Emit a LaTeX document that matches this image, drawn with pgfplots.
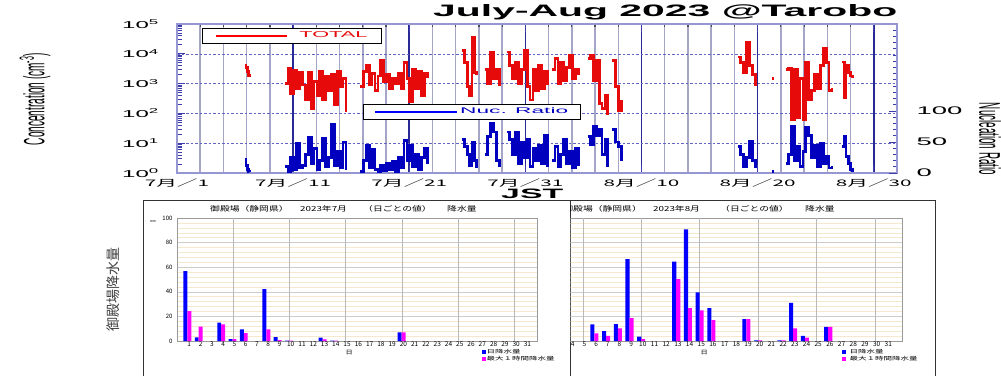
\documentclass[border=0pt]{standalone}
\usepackage{fontspec}
\setmainfont{Liberation Sans}
\newfontfamily\cjk{Noto Sans CJK JP}
\usepackage{pgfplots}
\pgfplotsset{compat=1.18}
\usepackage{pgfplotstable}

\definecolor{gridv}{RGB}{165,165,200}
\definecolor{gridV}{RGB}{40,40,150}
\definecolor{frameb}{RGB}{150,150,210}
\definecolor{tickb}{RGB}{60,60,170}
\definecolor{dashb}{RGB}{100,100,195}
\definecolor{totred}{RGB}{230,10,10}
\definecolor{nucblue}{RGB}{0,0,190}
\definecolor{barblue}{RGB}{0,0,255}
\definecolor{barmag}{RGB}{255,0,255}
\definecolor{minorbeige}{RGB}{245,232,205}
\definecolor{majgray}{RGB}{205,205,205}

\newcommand\tx[1]{\scalebox{2.3}[1]{\cjk\fontsize{9}{9}\selectfont #1}}
\newcommand\lt[1]{\scalebox{2.4}[1]{\fontsize{10}{10}\selectfont 10\textsuperscript{#1}}}
\newcommand\rt[1]{\scalebox{2.5}[1]{\fontsize{11}{11}\selectfont #1}}
\newcommand\jt[1]{{\cjk\fontsize{7}{7}\selectfont\scalebox{1.4}[1]{#1}}}

\pgfplotstableread{
d tot nuc
5.85 4200 22
5.95 3500 12
6.05 2600 5
6.15 1900 3
6.25 2100 1
6.35 nan nan
9.30 1000 10
9.55 3300 3
9.80 450 25
10.05 2800 5
10.30 700 48
10.55 2300 8
10.80 900 12
11.05 300 30
11.30 2400 58
11.55 150 15
11.80 1200 40
12.05 400 6
12.30 2600 20
12.55 280 55
12.80 1800 10
13.05 600 25
13.30 2000 78
13.55 200 12
13.80 2500 35
14.05 800 8
14.30 1500 50
14.55 110 5
14.75 nan nan
15.80 800 3
16.05 2500 20
16.30 4000 45
16.55 900 8
16.80 2200 38
17.05 600 5
17.30 1800 2
17.55 6000 12
17.80 1200 4
18.05 2000 15
18.30 700 6
18.55 1500 18
18.80 1000 3
19.05 2200 25
19.30 700 8
19.55 5000 52
19.80 1500 20
20.05 250 45
20.30 3000 10
20.55 700 30
20.80 2500 5
21.05 400 25
21.30 2200 40
21.55 1500 15
21.80 nan nan
24.50 13000 54
24.75 5000 43
25.00 800 30
25.20 400 12
25.40 36000 49
25.60 2300 20
25.80 2000 8
26.00 nan nan
26.50 2900 30
26.75 1000 59
27.00 11500 80
27.25 1500 66
27.50 3000 20
27.75 800 10
28.00 nan nan
28.40 11500 66
28.65 4000 54
28.90 1500 30
29.15 5000 66
29.40 1000 15
29.65 3000 50
29.90 13000 25
30.15 800 54
30.40 280 10
30.65 3000 40
30.90 600 20
31.15 4000 45
31.40 700 15
31.65 2500 60
31.90 900 10
32.10 nan nan
32.30 2900 20
32.55 7000 43
32.80 1000 10
33.05 5000 30
33.30 1300 54
33.55 3500 15
33.80 9000 35
34.05 1500 8
34.30 2900 40
34.55 2000 12
34.80 nan nan
35.35 7000 59
35.60 9000 45
35.85 1300 75
36.10 6000 60
36.35 220 70
36.60 150 30
36.85 400 54
37.10 90 10
37.30 nan nan
37.50 6000 70
37.75 800 50
38.00 120 43
38.25 280 20
38.45 nan nan
48.30 7800 43
48.55 5000 30
48.80 2300 10
49.05 24000 25
49.30 4000 51
49.55 2000 20
49.80 800 8
50.05 nan nan
51.25 1500 3
51.40 1500 3
51.45 nan nan
52.40 2900 15
52.65 3300 30
52.90 60 75
53.15 2900 20
53.40 75 43
53.65 1500 10
53.90 60 35
54.15 5000 74
54.40 300 60
54.65 600 25
54.90 2000 45
55.15 700 10
55.40 4000 48
55.65 15000 15
55.90 5000 27
56.15 600 8
56.40 700 12
56.60 nan nan
57.30 5300 43
57.45 330 59
57.60 4000 27
57.80 2300 15
58.00 1800 5
58.20 1500 2
58.35 nan nan
}\tarobo

\pgfplotstableread{
day rain maxh
1 56.8 24.3
2 3.0 11.6
4 14.9 13.5
5 1.6 1.6
6 9.5 6.5
8 42.2 9.5
9 3.2 0.8
10 0.3 0.3
13 2.7 1.4
14 0.3 0.3
20 7.0 7.0
}\julrain

\pgfplotstableread{
day rain maxh
6 13.5 6.2
7 8.1 4.1
8 13.8 10.3
9 66.5 18.6
10 3.5 1.6
13 64.6 50.3
14 90.8 26.8
15 39.5 24.9
16 26.8 17.0
19 17.8 17.8
20 0.5 0.5
22 0.5 0.5
23 31.1 10.3
24 4.1 2.7
26 11.4 11.4
}\augrain

\pgfplotsset{rainaxis/.style={
  scale only axis, height=123pt, ymin=0, ymax=100,
  ytick={0,20,40,60,80,100},
  minor ytick={4,8,...,96},
  ymajorgrids, yminorgrids,
  major y grid style={majgray, line width=0.6pt},
  minor y grid style={minorbeige, line width=0.5pt},
  tick style={draw=none},
  axis line style={gray!80, line width=0.6pt},
  xtick={1,...,31},
  xticklabels={1,2,3,4,5,6,7,8,9,10,11,12,13,14,15,16,17,18,19,20,21,22,23,24,25,26,27,28,29,30,31},
  xticklabel style={font=\cjk\fontsize{6.5}{6.5}\selectfont, inner sep=1pt},
  yticklabel style={font=\cjk\fontsize{6}{6}\selectfont, xshift=-1pt},
  extra x ticks={4.88,9.88,14.88,19.88,24.88,29.88},
  extra x tick labels={},
  extra x tick style={grid=major, major x grid style={gray!55, line width=0.8pt}},
  legend style={draw=none, fill=none, inner sep=0pt, row sep=0.3pt,
    nodes={inner sep=0.6pt, font=\cjk\fontsize{5}{5}\selectfont}},
  legend cell align=left,
  xlabel style={font=\cjk\fontsize{5.5}{5.5}\selectfont, inner sep=0pt, anchor=north},
}}

\begin{document}
\begin{tikzpicture}
\useasboundingbox (0pt,0pt) rectangle (1001pt,376pt);
\clip (0pt,0pt) rectangle (1001pt,376pt);

% ---------- top: two-day grid (drawn first, underneath)
\begin{axis}[
  at={(177pt,203pt)}, anchor=south west, scale only axis,
  width=720pt, height=149pt,
  xmin=0, xmax=62, ymin=0, ymax=1,
  xtick={2,4,6,8,12,14,16,18,22,24,26,28,32,34,36,38,42,44,46,48,52,54,56,58},
  xticklabels={}, ytick=\empty,
  xmajorgrids, major x grid style={gridv, line width=1.5pt},
  axis line style={draw=none},
  xtick pos=upper, tick align=inside, major tick length=3pt,
  tick style={black!70, line width=1.2pt},
]
\end{axis}

% ---------- top: concentration (left log axis)
\begin{axis}[
  at={(177pt,203pt)}, anchor=south west, scale only axis,
  width=720pt, height=149pt,
  xmin=0, xmax=62, ymode=log, ymin=1, ymax=1e5,
  axis line style={frameb, line width=1.2pt},
  xtick={0,10,20,30,40,50,60},
  xticklabels={\tx{7月／1},\tx{7月／11},\tx{7月／21},\tx{7月／31},\tx{8月／10},\tx{8月／20},\tx{8月／30}},
  xmajorgrids,
  major x grid style={gridV, line width=1.6pt},
  ymajorgrids, major y grid style={dashb, dash pattern=on 2.5pt off 2pt, line width=0.5pt},
  ytick={1,10,100,1000,10000,100000},
  yticklabels={\lt{0},\lt{1},\lt{2},\lt{3},\lt{4},\lt{5}},
  ytick pos=left, tick align=inside,
  major tick length=8pt, minor tick length=4.5pt,
  tick style={tickb, line width=0.8pt},
  xticklabel style={yshift=-2pt},
  yticklabel style={xshift=-14pt},
  unbounded coords=jump,
  legend style={at={(0.0347,0.973)}, anchor=north west, draw=black, line width=0.9pt,
    fill=white, inner xsep=14pt, inner ysep=3.5pt, nodes={inner sep=0pt}},
]
\addplot[const plot, totred, line width=2.8pt,
  legend image code/.code={\path[fill=red, draw=none] (0pt,-0.8pt) rectangle (71pt,0.8pt); \path[draw=none] (83pt,0pt);}]
  table[x=d, y=tot] {\tarobo};
\addlegendentry{\textcolor{totred}{\resizebox{68pt}{6pt}{TOTAL}}}
\end{axis}

% ---------- top: nucleation ratio (right linear axis)
\begin{axis}[
  at={(177pt,203pt)}, anchor=south west, scale only axis,
  width=720pt, height=149pt,
  xmin=0, xmax=62, ymin=0, ymax=240,
  axis x line=none, axis y line*=right,
  y axis line style={frameb, line width=1.2pt},
  ytick={0,50,100}, yticklabels={\rt{0},\rt{50},\rt{100}},
  minor ytick={10,20,...,230},
  tick align=inside, major tick length=8pt, minor tick length=4.5pt,
  tick style={tickb, line width=0.8pt},
  yticklabel style={anchor=west, xshift=16pt},
  unbounded coords=jump,
  legend style={at={(0.258,0.463)}, anchor=north west, draw=black, line width=0.9pt,
    fill=white, inner xsep=12pt, inner ysep=3.5pt, nodes={inner sep=0pt}},
]
\addplot[const plot, nucblue, line width=2.8pt,
  legend image code/.code={\path[fill=blue, draw=none] (0pt,-0.8pt) rectangle (82pt,0.8pt); \path[draw=none] (85pt,0pt);}]
  table[x=d, y=nuc] {\tarobo};
\addlegendentry{\textcolor{nucblue}{\resizebox{108pt}{6pt}{Nuc. Ratio}}}
\end{axis}

% top texts
\node[anchor=base west, inner sep=0pt] at (433pt,359pt) {\resizebox{464pt}{12pt}{\bfseries July-Aug 2023 @Tarobo}};
\node[rotate=90, inner sep=0pt] at (35pt,277pt) {\resizebox*{92pt}{31pt}{Concentration (cm\textsuperscript{-3})}};
\node[rotate=-90, inner sep=0pt] at (990pt,237pt) {\resizebox*{72pt}{22pt}{Nucleation Ratio}};
\node[anchor=south west, inner sep=0pt] at (501pt,177.5pt) {\resizebox{62pt}{9.5pt}{\bfseries JST}};

% ---------- bottom frames
\draw[gray!40!black, line width=0.8pt] (143pt,0pt) -- (143pt,176pt) -- (935pt,176pt) -- (935pt,0pt);
\draw[gray!40!black, line width=0.8pt] (570pt,0pt) -- (570pt,176pt);

% July precipitation
\node[anchor=west, inner sep=0pt] at (210pt,167pt) {\jt{御殿場（静岡県）}};
\node[anchor=west, inner sep=0pt] at (300pt,167pt) {\jt{2023年7月}};
\node[anchor=west, inner sep=0pt] at (363pt,167pt) {\jt{（日ごとの値）}};
\node[anchor=west, inner sep=0pt] at (447pt,167pt) {\jt{降水量}};
\node[inner sep=0pt] at (153pt,154pt) {\fontsize{3.5}{4}\selectfont mm};
\node[rotate=90, inner sep=0pt, text=black!75] at (113pt,86.5pt) {\cjk\fontsize{14}{14}\selectfont 御殿場降水量};

\begin{axis}[rainaxis,
  at={(177pt,35pt)}, anchor=south west, width=360pt,
  xmin=-0.09, xmax=31.85,
  yticklabels={0,20,40,60,80,100},
  xlabel={\scalebox{1.3}[1]{日}},
  xlabel style={at={(axis description cs:0.478,-0.07)}},
  legend style={at={(0.847,-0.06)}, anchor=north west},
]
\addplot[ybar, bar width=0.35, bar shift=0pt, fill=barblue, draw=none,
  legend image code/.code={\fill[barblue] (0pt,-1.8pt) rectangle (3.8pt,1.8pt);}]
  table[x expr=\thisrow{day}-0.34, y=rain] {\julrain};
\addlegendentry{\scalebox{1.7}[1]{日降水量}}
\addplot[ybar, bar width=0.35, bar shift=0pt, fill=barmag, draw=none,
  legend image code/.code={\fill[barmag] (0pt,-1.8pt) rectangle (3.8pt,1.8pt);}]
  table[x expr=\thisrow{day}+0.01, y=maxh] {\julrain};
\addlegendentry{\scalebox{1.7}[1]{最大１時間降水量}}
\end{axis}

% August precipitation (left part hidden behind the July panel)
\begin{scope}
\clip (570.5pt,0pt) rectangle (1001pt,376pt);
\node[anchor=east, inner sep=0pt] at (642pt,167pt) {\jt{御殿場（静岡県）}};
\node[anchor=west, inner sep=0pt] at (653pt,167pt) {\jt{2023年8月}};
\node[anchor=west, inner sep=0pt] at (720pt,167pt) {\jt{（日ごとの値）}};
\node[anchor=west, inner sep=0pt] at (805pt,167pt) {\jt{降水量}};
\begin{axis}[rainaxis,
  at={(570pt,35pt)}, anchor=south west, width=332pt,
  xmin=3.77, xmax=32.17,
  yticklabels={},
  xlabel={\scalebox{1.3}[1]{日}},
  xlabel style={at={(axis description cs:0.404,-0.07)}},
  legend style={at={(0.819,-0.06)}, anchor=north west},
]
\addplot[ybar, bar width=0.35, bar shift=0pt, fill=barblue, draw=none,
  legend image code/.code={\fill[barblue] (0pt,-1.8pt) rectangle (3.8pt,1.8pt); \path (7pt,0pt);}]
  table[x expr=\thisrow{day}-0.31, y=rain] {\augrain};
\addlegendentry{\scalebox{1.7}[1]{日降水量}}
\addplot[ybar, bar width=0.35, bar shift=0pt, fill=barmag, draw=none,
  legend image code/.code={\fill[barmag] (0pt,-1.8pt) rectangle (3.8pt,1.8pt); \path (7pt,0pt);}]
  table[x expr=\thisrow{day}+0.03, y=maxh] {\augrain};
\addlegendentry{\scalebox{1.7}[1]{最大１時間降水量}}
\end{axis}
\end{scope}
\end{tikzpicture}
\end{document}
